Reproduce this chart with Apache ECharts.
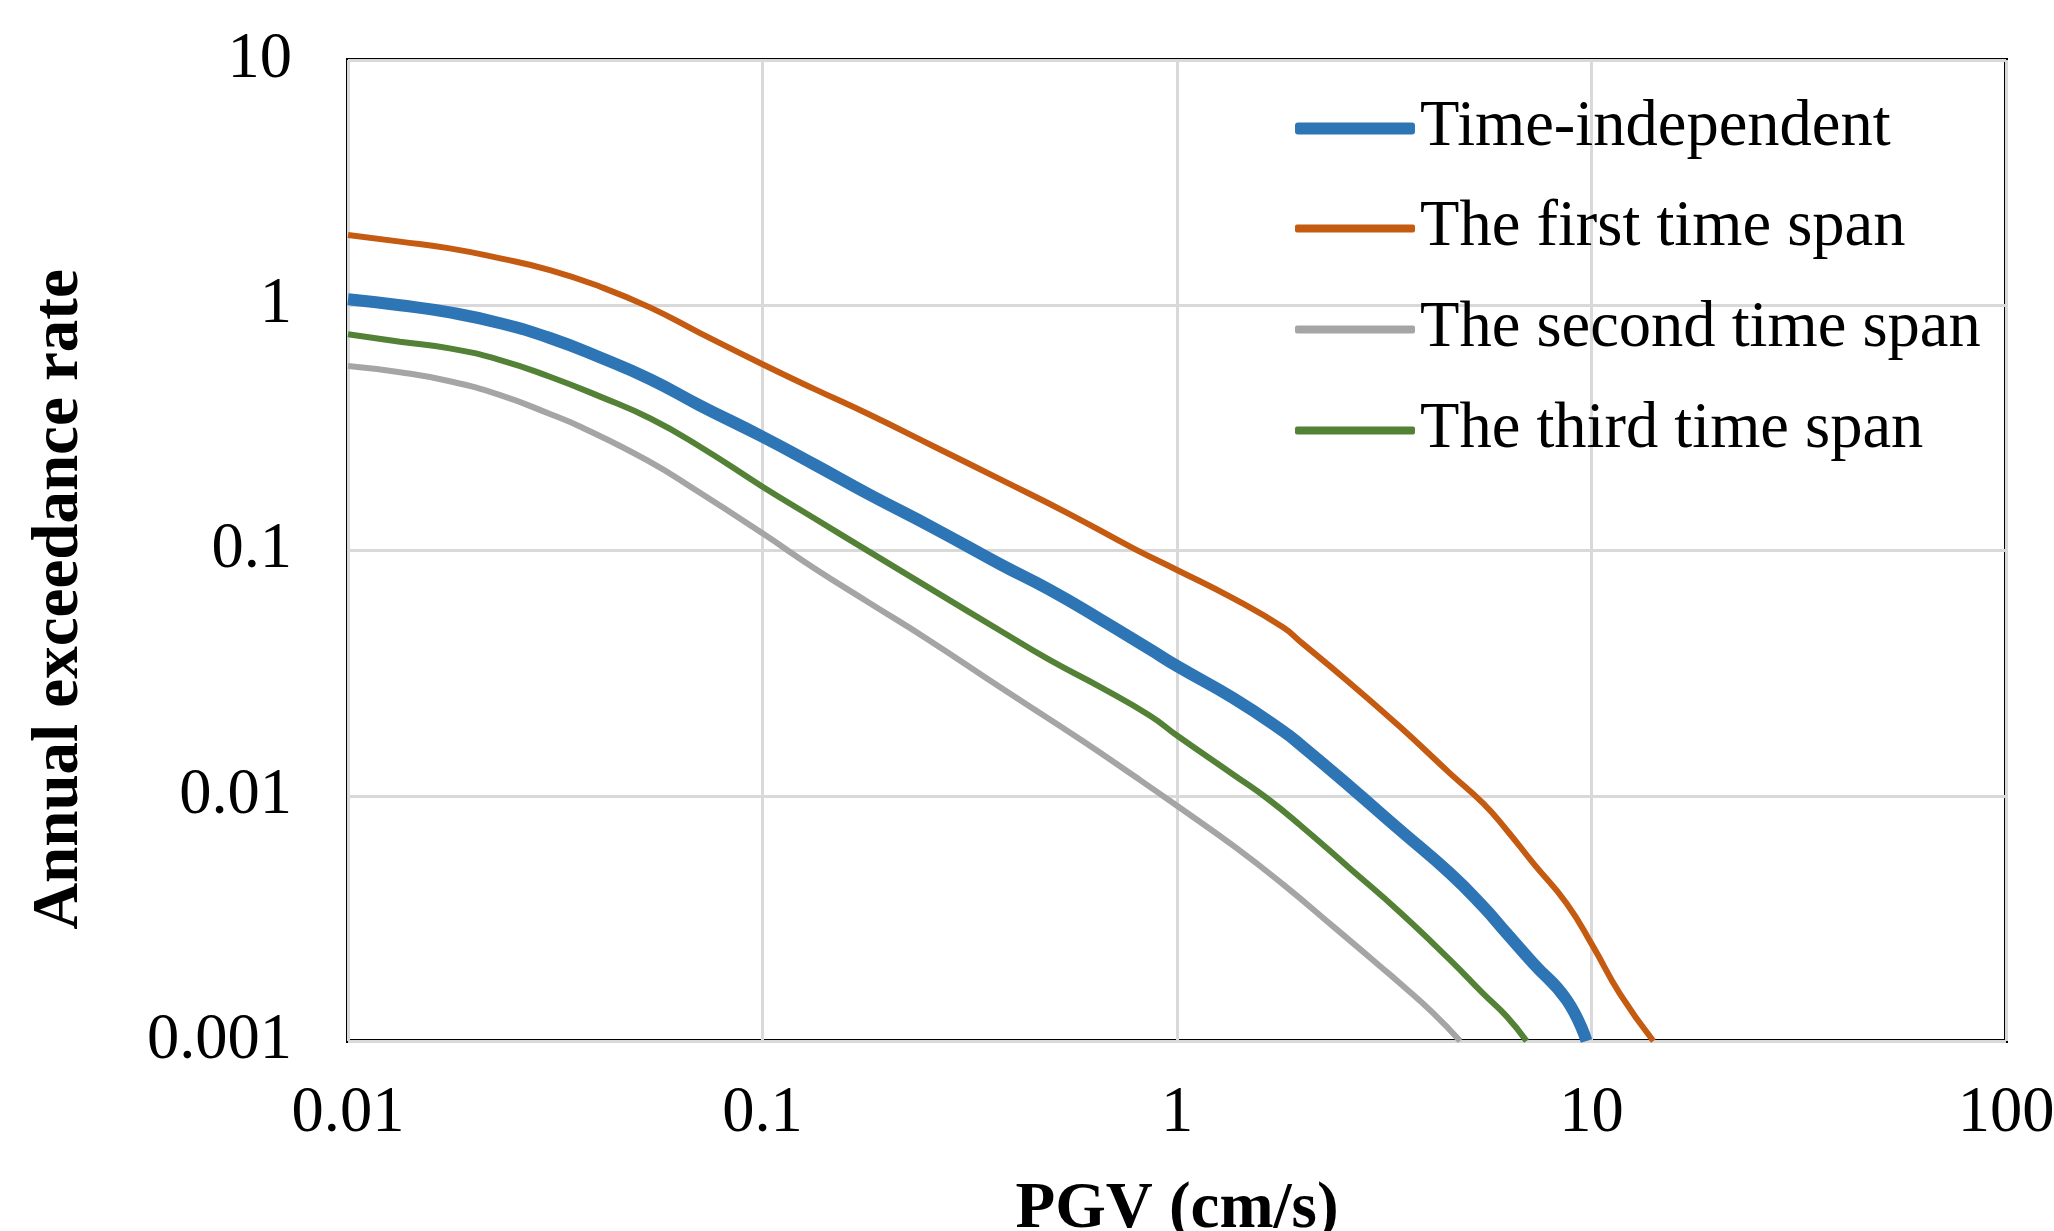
<!DOCTYPE html>
<html>
<head>
<meta charset="utf-8">
<script src="https://cdn.jsdelivr.net/npm/echarts@6/dist/echarts.min.js"></script>
<style>
html,body{margin:0;padding:0;background:#ffffff;}
#chart{width:2054px;height:1231px;}
</style>
</head>
<body>
<div id="chart"></div>
<script>
// ---- data (PGV in cm/s, annual exceedance rate) ----
const seriesNames = ['Time-independent', 'The first time span', 'The second time span', 'The third time span'];
const xTickLabels = ['0.01', '0.1', '1', '10', '100'];
const yTickLabels = ['0.001', '0.01', '0.1', '1', '10'];

const timeIndependent = [
  [0.01,1.057],[0.01335,1.0],[0.0176,0.935],[0.0233,0.845],[0.0307,0.735],[0.0406,0.612],
  [0.0535,0.50],[0.0707,0.39],[0.1,0.291],[0.1336,0.224],[0.18,0.17],[0.26,0.123],
  [0.374,0.088],[0.494,0.069],[0.652,0.0525],[0.861,0.0395],[1.0,0.0338],[1.367,0.025],
  [1.806,0.0183],[1.98,0.0162],[2.614,0.0109],[3.45,0.00725],[4.556,0.00483],[5.48,0.00353],
  [6.24,0.00275],[7.24,0.00207],[8.71,0.00147],[9.73,0.001]
];
const firstSpan = [
  [0.01,1.934],[0.01335,1.817],[0.0176,1.706],[0.0233,1.553],[0.0307,1.392],[0.0406,1.19],
  [0.0535,0.98],[0.0707,0.77],[0.1,0.575],[0.1336,0.455],[0.18,0.36],[0.26,0.265],
  [0.377,0.194],[0.546,0.1418],[0.785,0.102],[1.0,0.0833],[1.367,0.0638],[1.806,0.0485],
  [2.0,0.042],[2.54,0.030],[3.45,0.0191],[4.556,0.01234],[5.48,0.0093],[6.24,0.00725],
  [7.24,0.0053],[8.71,0.00364],[10.1,0.00242],[11.7,0.00156],[14.1,0.001]
];
const secondSpan = [
  [0.01,0.565],[0.01335,0.533],[0.0176,0.49],[0.0233,0.43],[0.0305,0.362],[0.0366,0.318],
  [0.053,0.232],[0.0699,0.174],[0.1,0.1175],[0.1336,0.0845],[0.18,0.0615],[0.25,0.0435],
  [0.377,0.0275],[0.59,0.0168],[0.79,0.012],[1.0,0.0091],[1.377,0.0062],[1.818,0.0043],
  [2.4,0.0029],[3.11,0.002],[3.45,0.00172],[4.15,0.0013],[4.82,0.001]
];
const thirdSpan = [
  [0.01,0.761],[0.01335,0.71],[0.0176,0.667],[0.0233,0.598],[0.0307,0.511],[0.0406,0.424],
  [0.0535,0.346],[0.0707,0.265],[0.1,0.182],[0.1336,0.135],[0.18,0.0994],[0.26,0.0683],
  [0.374,0.0472],[0.494,0.0357],[0.652,0.0278],[0.861,0.0212],[1.0,0.0176],[1.377,0.0121],
  [1.658,0.0097],[1.98,0.0076],[2.614,0.00505],[3.45,0.00335],[4.556,0.00214],[5.48,0.00156],
  [6.24,0.00126],[6.97,0.001]
];

const colors = ['#2E75B6', '#C55A11', '#A5A5A5', '#538135'];
const FONT = '"Liberation Serif", "Times New Roman", serif';

function tickLabel(labels, minExp) {
  return function (v) {
    const e = Math.round(Math.log10(v));
    return labels[e - minExp] !== undefined ? labels[e - minExp] : '';
  };
}

const chart = echarts.init(document.getElementById('chart'), null, {renderer: 'canvas'});
const option = {
  backgroundColor: '#ffffff',
  animation: false,
  grid: {
    left: 348, right: 48, top: 60, bottom: 190,
    outerBoundsMode: 'none', containLabel: false,
    show: true, borderColor: '#000000', borderWidth: 4, backgroundColor: 'transparent'
  },
  legend: [
    {
      data: [seriesNames[0]],
      left: 1290, top: 91,
      icon: 'roundRect',
      itemWidth: 120, itemHeight: 12, itemGap: 36, itemTextGap: 14,
      textStyle: {fontFamily: FONT, fontSize: 64.5, color: '#000', lineHeight: 64}
    },
    {
      data: seriesNames.slice(1),
      orient: 'vertical',
      left: 1290, top: 191,
      icon: 'roundRect',
      itemWidth: 120, itemHeight: 8, itemGap: 36, itemTextGap: 14,
      textStyle: {fontFamily: FONT, fontSize: 64.5, color: '#000', lineHeight: 64}
    }
  ],
  xAxis: {
    type: 'log', logBase: 10, min: 0.01, max: 100,
    name: 'PGV (cm/s)', nameLocation: 'middle', nameGap: 137,
    nameTextStyle: {fontFamily: FONT, fontSize: 65, fontWeight: 'bold', color: '#000', lineHeight: 65},
    axisLine: {show: false},
    axisTick: {show: false},
    minorTick: {show: false},
    axisLabel: {fontFamily: FONT, fontSize: 64.5, color: '#000', margin: 41, formatter: tickLabel(xTickLabels, -2)},
    splitLine: {show: true, lineStyle: {color: '#D9D9D9', width: 3}}
  },
  yAxis: {
    type: 'log', logBase: 10, min: 0.001, max: 10,
    name: 'Annual exceedance rate', nameLocation: 'middle', nameGap: 255, nameRotate: 90,
    nameTextStyle: {fontFamily: FONT, fontSize: 65, fontWeight: 'bold', color: '#000', lineHeight: 65, padding: [0, 98, 0, 0]},
    axisLine: {show: false},
    axisTick: {show: false},
    minorTick: {show: false},
    axisLabel: {fontFamily: FONT, fontSize: 64.5, color: '#000', margin: 56, formatter: tickLabel(yTickLabels, -3)},
    splitLine: {show: true, lineStyle: {color: '#D9D9D9', width: 3}}
  },
  series: [
    {name: seriesNames[0], type: 'line', data: timeIndependent, symbol: 'none', smooth: 0.5, z: 4,
     lineStyle: {color: colors[0], width: 12}, itemStyle: {color: colors[0]}},
    {name: seriesNames[1], type: 'line', data: firstSpan, symbol: 'none', smooth: 0.5, z: 3,
     lineStyle: {color: colors[1], width: 6}, itemStyle: {color: colors[1]}},
    {name: seriesNames[2], type: 'line', data: secondSpan, symbol: 'none', smooth: 0.5, z: 3,
     lineStyle: {color: colors[2], width: 6}, itemStyle: {color: colors[2]}},
    {name: seriesNames[3], type: 'line', data: thirdSpan, symbol: 'none', smooth: 0.5, z: 3,
     lineStyle: {color: colors[3], width: 6}, itemStyle: {color: colors[3]}}
  ]
};
chart.setOption(option);
</script>
</body>
</html>
